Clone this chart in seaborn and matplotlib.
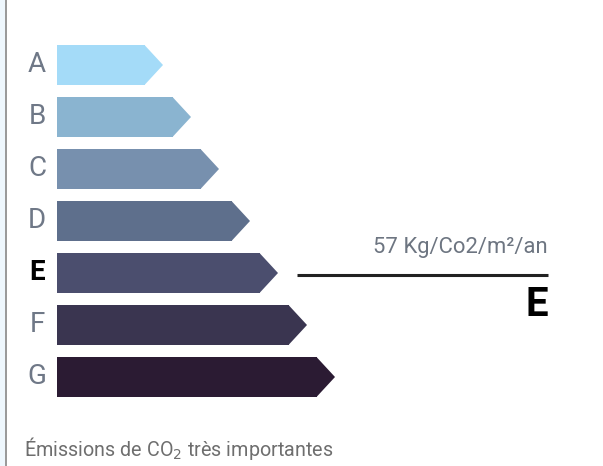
import matplotlib
matplotlib.use("Agg")
import matplotlib.pyplot as plt
from matplotlib.patches import Polygon, Rectangle
import seaborn as sns
import pandas as pd

# energy classes, bar lengths (px-ish units) and colours
classes = ["A", "B", "C", "D", "E", "F", "G"]
lengths = [88, 116, 144, 175, 203, 232, 260]
colors = ["#a4dbf8", "#8ab4d0", "#7790ae", "#5e6f8c", "#4b4e6e", "#3a3550", "#2b1b33"]
current = "E"
value_label = "57 Kg/Co2/m²/an"
footer = "Émissions de CO$_2$ très importantes"

sns.set_theme(style="white")
plt.rcParams["font.family"] = ["Roboto", "DejaVu Sans"]

W, H = 603, 466
fig = plt.figure(figsize=(W / 100, H / 100), dpi=100)
ax = fig.add_axes([0, 0, 1, 1])

df = pd.DataFrame({"cls": classes, "len": lengths})
sns.barplot(data=df, x="len", y="cls", hue="cls", palette=colors, orient="h",
            width=40 / 52, legend=False, ax=ax, linewidth=0, saturation=1)

# map axis units onto pixels: x=0 at 57px, category i at 65 + 52*i px
ax.set_xlim(-57, W - 57)
ax.set_ylim((H - 65) / 52, -65 / 52)
ax.axis("off")

# arrow tips derived from each bar
for p, c in zip(ax.patches, colors):
    x1 = p.get_x() + p.get_width()
    y0 = p.get_y()
    h = p.get_height()
    tip = Polygon([(x1 - 0.5, y0), (x1 + 18, y0 + h / 2), (x1 - 0.5, y0 + h)],
                  closed=True, facecolor=c, edgecolor="none")
    ax.add_patch(tip)

for i, cl in enumerate(classes):
    if cl == current:
        ax.text(-20, i, cl, ha="center", va="center", fontsize=20,
                fontweight="bold", color="black")
    else:
        ax.text(-20, i, cl, ha="center", va="center", fontsize=20,
                color="#6f7887")

ci = classes.index(current)
ax.plot([240, 491], [ci + 0.04, ci + 0.04], color="#222222", lw=2.2,
        solid_capstyle="butt")
ax.text(491, ci - 0.5, value_label, ha="right", va="center", fontsize=15.8,
        color="#6d7581")
ax.text(491, ci + 0.62, current, ha="right", va="center", fontsize=29,
        fontweight="bold", color="black")

fig.text(24 / W, 1 - 448 / H, footer, ha="left", va="center", fontsize=14.2,
         color="#6e6e6e")

# left border strip
fig.patches.append(Rectangle((0, 0), 5 / W, 1, transform=fig.transFigure,
                             facecolor="#eef7fd", edgecolor="none"))
fig.patches.append(Rectangle((5 / W, 0), 2 / W, 1, transform=fig.transFigure,
                             facecolor="#9a9a9a", edgecolor="none"))

fig.savefig("out.png", dpi=100)
